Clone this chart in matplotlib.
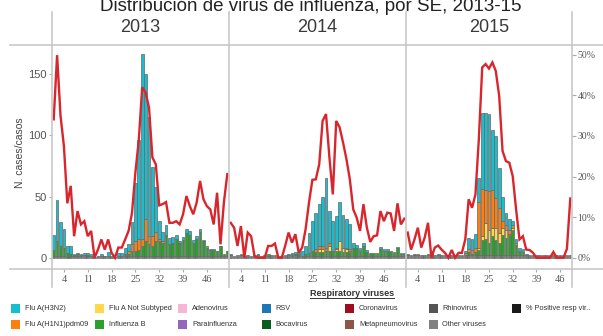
import matplotlib.pyplot as plt
from matplotlib.lines import Line2D
from matplotlib.patches import Rectangle
import numpy as np

# ---- weekly counts by virus, one array per year ----
other_2013 = [1.5, 2, 1.5, 1.5, 1, 1.5, 2, 2, 2, 2.5, 2, 2, 1, 1.5, 2, 1.5, 2, 1.5, 1, 2,
              2, 1.5, 1.5, 1.5, 1.5, 1.5, 1.5, 1.5, 1.5, 1.5, 1.5, 1.5, 1.5, 1.5, 1.5, 1.5,
              1.5, 1.5, 1.5, 1.5, 1.5, 1.5, 1.5, 1.5, 1.5, 1.5, 1.5, 1.5, 1.5, 1.5, 1.5, 1.5]
fluB_2013 = [5, 12, 8, 7, 3, 2, 0.5, 1, 0.5, 0, 0.5, 0, 0, 0, 0, 0, 0, 0, 0, 0,
             0, 1, 1.5, 4, 4, 5, 8, 12, 10, 8, 12, 12, 11, 16, 10, 11, 14, 10, 13, 19,
             17, 11, 14, 20, 12, 7, 5, 5, 4, 8, 1.5, 4]
notsub_2013 = [0] * 52
h1n1_2013 = [0] * 21 + [1, 3, 6, 8, 9, 6, 18, 6, 8, 8, 2, 1, 1, 0, 0, 0, 1] + [0] * 14
h3n2_2013 = [12, 33, 20, 15.5, 6, 6.5, 1, 1, 1, 1.5, 1.5, 1.5, 0, 0.5, 1, 0.5, 2.5, 0, 0, 2,
             2, 4.5, 5, 17.5, 47.5, 80.5, 150.5, 118.5, 97.5, 56.5, 36.5, 14.5, 7.5, 8.5,
             4.5, 4.5, 3.5, 1.5, 2.5, 3.5, 3.5, 2.5, 2.5, 2.5, 1.5, 1.5, 0.5, 0.5, 0.5, 0.5, 0, 0.5]
pct_2013 = [34.1, 49.9, 35, 27.5, 13.4, 17.7, 5.3, 11.5, 8.2, 9, 5.3, 6.6, 0, 2, 4.5, 2,
            4.5, 1.2, 0, 2.5, 2.5, 4.5, 6.6, 11, 21, 29, 42, 40.7, 37, 24.7, 23, 12.9,
            13.2, 13.7, 8.6, 8.6, 9, 8.2, 10.7, 15.2, 12.7, 10.7, 13.6, 18.9, 14.4, 12.7,
            11.9, 8.2, 16, 3.3, 13.6, 20.6]

other_2014 = [2.5, 2, 2.5, 2.5, 2, 2.5, 2, 2.5, 2.5, 2, 2.5, 2, 2.5, 2.5, 2, 2, 2.5, 2.5,
              2, 2.5] + [2] * 32
fluB_2014 = [1, 0, 0, 1, 0, 0, 0, 0, 1, 0, 0, 1, 0, 0, 0, 0, 0, 0, 1, 1,
             1, 0, 1, 2, 3, 3, 3, 3, 4, 4, 3, 4, 4, 3, 3, 3, 6, 6, 4, 8,
             3, 2, 2, 2, 5, 4, 4, 3, 3, 6, 1, 1]
notsub_2014 = [0] * 26 + [2, 2, 0, 4, 0, 1, 8, 3, 2, 1] + [0] * 16
h1n1_2014 = [0] * 24 + [1, 2, 3, 3, 2, 2, 1, 1, 0, 0, 1, 1] + [0] * 16
h3n2_2014 = [0] * 17 + [0.5, 1, 1, 2, 4, 7, 16, 24, 30, 34, 40, 57, 26, 24, 26, 32, 27,
             24, 21, 4, 2.5, 2, 2.5, 1.5, 0, 0, 0, 2, 1, 1, 1, 0, 1, 1, 1]
pct_2014 = [8.6, 7.4, 2.9, 7.8, 0, 6.2, 5.3, 0.4, 0, 0, 0, 2.9, 2.9, 3.5, 0, 0, 2.9, 6.2,
            3.7, 5.8, 1.2, 2.5, 7, 13.6, 19.2, 19.3, 23, 33.7, 35.4, 24.7, 15.6, 33.7,
            32.1, 28.4, 24.3, 19.3, 11.9, 9.9, 6.6, 13.2, 7.4, 3.9, 5.3, 5.5, 11.5, 9,
            11.1, 10.9, 6.6, 13.4, 8.2, 9.6]

other_2015 = [2.5] * 49
fluB_2015 = [1, 0, 0.5, 1, 0, 0, 1, 3, 0, 1, 0, 0, 0, 0, 0, 0, 0, 0, 2, 1,
             2, 4, 12, 13, 10, 15, 12, 10, 16, 14, 16, 20, 8, 3, 2] + [0] * 14
notsub_2015 = [0] * 21 + [2, 3, 13, 10, 7, 10, 8, 6, 6, 1, 2] + [0] * 17
h1n1_2015 = [0] * 17 + [1.5, 3, 3, 4, 37, 39, 27, 32, 31, 24, 20, 6, 4, 3, 2, 2] + [0] * 16
h3n2_2015 = [0] * 17 + [1.5, 9, 9, 11, 20, 62, 63, 63, 49, 51, 33, 19, 10, 9, 4, 3, 3,
             2.5, 1] + [0] * 13
pct_2015 = [6.2, 2, 4.5, 7.4, 2.5, 4.9, 8.6, 0, 2.5, 3, 2, 1.2, 0, 1.9, 0, 1.2, 1.2, 4.5,
            14.4, 12.3, 15.6, 29.2, 46.9, 47.7, 46.6, 48.1, 46, 39.9, 26.3, 23.8, 23.4,
            20.1, 11.9, 4.5, 5.3, 2, 1.9, 1.2, 0, 0, 0, 0, 0, 1.4, 0, 0, 0, 2.2, 14.6]

years = ['2013', '2014', '2015']
week_ticks = [4, 11, 18, 25, 32, 39, 46]
count_ticks = [0, 50, 100, 150]
pct_ticks = [0, 10, 20, 30, 40, 50]

legend_labels = ['Flu A(H3N2)', 'Flu A(H1N1)pdm09', 'Flu A Not Subtyped', 'Influenza B',
                 'Adenovirus', 'Parainfluenza', 'RSV', 'Bocavirus', 'Coronavirus',
                 'Metapneumovirus', 'Rhinovirus', 'Other viruses', '% Positive resp vir..']
legend_colors = ['#17becf', '#ff7f0e', '#ffd94a', '#2ca02c', '#f7b6d2', '#9467bd',
                 '#1f77b4', '#0b5d1e', '#9e0d20', '#8c564b', '#555555', '#808080', '#1a1a1a']

C_H3, C_H1, C_NS, C_B, C_OTHER = '#17becf', '#ff7f0e', '#ffd94a', '#2ca02c', '#7a7a7a'
EDGE = '#666666'
RED = '#d9262d'
GRID = '#c8c8c8'
TXT = '#555555'
SANS = ['Liberation Sans', 'DejaVu Sans']
SERIF = ['Liberation Serif', 'DejaVu Serif']

W, H = 603, 336


def px(x, y):
    return x / W, 1 - y / H


def figLine(fig, x0, y0, x1, y1):
    a, b = px(x0, y0)
    c, d = px(x1, y1)
    fig.add_artist(Line2D([a, c], [b, d], transform=fig.transFigure, color=GRID, lw=1.2))


def drawPanel(fig, x0, x1, series, pct, first, last):
    left, bot = px(x0, 269)
    ax = fig.add_axes([left, bot, (x1 - x0) / W, (269 - 45) / H])
    weeks = np.arange(1, len(pct) + 1)
    bottom = np.zeros(len(weeks))
    for vals, color in series:
        vals = np.array(vals, dtype=float)
        m = vals > 0
        ax.bar(weeks[m], vals[m], bottom=bottom[m], width=0.8, color=color,
               edgecolor=EDGE, linewidth=0.5)
        bottom += vals
    ax.set_xlim(0.5, len(weeks) + 0.5)
    ax.set_ylim(-9, 173.6)
    for s in ax.spines.values():
        s.set_visible(False)
    ax.set_xticks(week_ticks)
    ax.tick_params(axis='x', length=2, color='#aaaaaa', pad=2, labelsize=7.5, labelcolor=TXT)
    for t in ax.get_xticklabels():
        t.set_family(SERIF)
    if first:
        ax.set_yticks(count_ticks)
        ax.tick_params(axis='y', length=2, color='#aaaaaa', pad=2, labelsize=8, labelcolor=TXT)
        for t in ax.get_yticklabels():
            t.set_family(SANS)
    else:
        ax.set_yticks([])

    axp = ax.twinx()
    axp.plot(weeks, pct, color=RED, lw=1.7, solid_joinstyle='miter')
    axp.set_ylim(-2.78, 52.4)
    for s in axp.spines.values():
        s.set_visible(False)
    if last:
        axp.set_yticks(pct_ticks)
        axp.set_yticklabels([f'{p}%' for p in pct_ticks])
        axp.tick_params(axis='y', length=3, color='#aaaaaa', pad=1, labelsize=7, labelcolor=TXT)
        for t in axp.get_yticklabels():
            t.set_family(SERIF)
    else:
        axp.set_yticks([])
    return ax


fig = plt.figure(figsize=(W / 100, H / 100), dpi=100, facecolor='w')

panels = [
    (52, 229, [(other_2013, C_OTHER), (fluB_2013, C_B), (notsub_2013, C_NS),
               (h1n1_2013, C_H1), (h3n2_2013, C_H3)], pct_2013),
    (229, 406, [(other_2014, C_OTHER), (fluB_2014, C_B), (notsub_2014, C_NS),
                (h1n1_2014, C_H1), (h3n2_2014, C_H3)], pct_2014),
    (406, 572, [(other_2015, C_OTHER), (fluB_2015, C_B), (notsub_2015, C_NS),
                (h1n1_2015, C_H1), (h3n2_2015, C_H3)], pct_2015),
]
for i, (x0, x1, series, pct) in enumerate(panels):
    drawPanel(fig, x0, x1, series, pct, i == 0, i == len(panels) - 1)
    cx, cy = px((x0 + x1) / 2, 28)
    fig.text(cx, cy, years[i], ha='center', va='center', fontsize=13,
             color='#3a3a3a', family=SANS)

# table borders
figLine(fig, 10, 45, 603, 45)
figLine(fig, 10, 269, 603, 269)
for x in (52, 229, 406, 572):
    figLine(fig, x, 12, x, 287)

# title, running off the top edge
tx, ty = px(311, 11)
fig.text(tx, ty, 'Distribución de virus de influenza, por SE, 2013-15', ha='center',
         va='baseline', fontsize=13.5, color='#222222', family=SANS)

lx, ly = px(20, 153)
fig.text(lx, ly, 'N. cases/casos', rotation=90, ha='center', va='center',
         fontsize=7.5, color='#444444', family=SANS)

# legend
hx, hy = px(352, 293)
head = fig.text(hx, hy, 'Respiratory viruses', ha='center', va='center', fontsize=6.5,
                fontweight='bold', color='#333333', family=SANS)
fig.canvas.draw()
bb = head.get_window_extent().transformed(fig.transFigure.inverted())
fig.add_artist(Line2D([bb.x0, bb.x1], [bb.y0 - 0.002, bb.y0 - 0.002],
                      transform=fig.transFigure, color='#333333', lw=0.7))

for k, (label, color) in enumerate(zip(legend_labels, legend_colors)):
    col, row = divmod(k, 2)
    x = 11 + 83.5 * col
    y = 308 + 16 * row
    rx, ry = px(x, y + 4.5)
    fig.add_artist(Rectangle((rx, ry), 9 / W, 9 / H, transform=fig.transFigure,
                             facecolor=color, edgecolor='none'))
    tx, ty = px(x + 14, y)
    fig.text(tx, ty, label, ha='left', va='center', fontsize=5.3, color='#333333',
             family=SANS)

fig.savefig('out.png', dpi=100)
